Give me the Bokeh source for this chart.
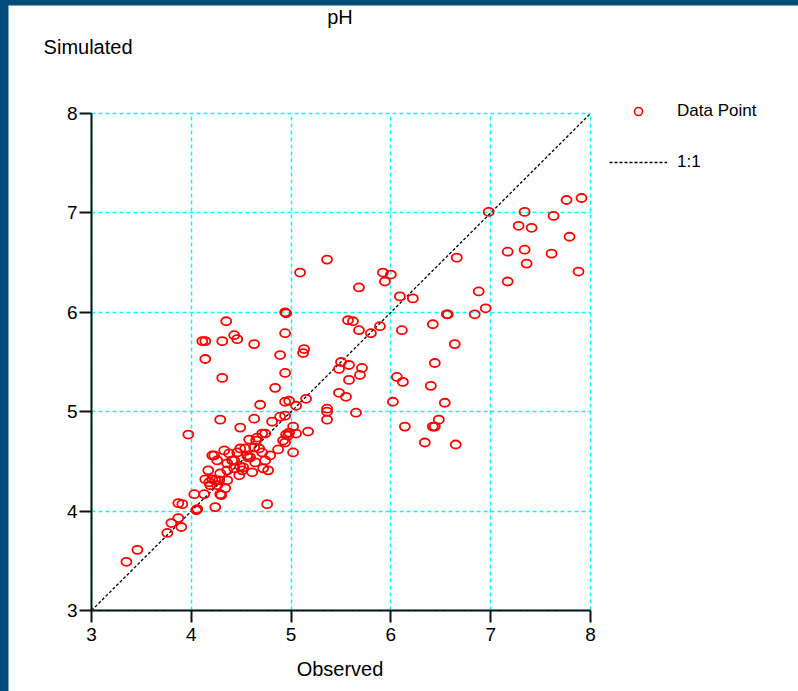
from bokeh.plotting import figure
from bokeh.models import Legend, LegendItem, FixedTicker, Label, Grid
from bokeh.layouts import column
from bokeh.embed import file_html
from bokeh.resources import INLINE

# ---- data (Observed vs Simulated pH) ----
observed = [
    7.91, 7.76, 7.34, 6.98, 7.63, 7.28, 7.41, 7.79, 7.17, 7.34, 7.61, 7.36, 7.88, 7.17,
    6.66, 6.88, 6.95, 6.84, 6.57, 6.42, 6.64, 6.44, 6.40, 6.54, 6.48, 6.44, 6.42, 6.65, 6.34,
    5.36, 5.09, 5.92, 6.00, 5.94, 5.68, 6.09, 6.22, 4.94, 4.95, 5.57, 5.62, 5.68, 5.80, 5.89,
    6.11, 6.56, 4.94, 5.13, 5.12, 4.89, 4.94, 5.50, 5.58, 5.71, 5.69, 5.48, 5.58, 5.48, 5.55,
    5.65, 5.36, 5.36, 5.36, 6.06, 6.12, 6.02, 6.14, 4.94, 4.98, 5.05, 5.15, 4.89, 4.94, 5.02,
    4.95, 4.98, 5.05, 4.94, 5.17, 5.02,
    4.35, 4.43, 4.46, 4.11, 4.14, 4.31, 4.63, 4.14, 4.31, 4.84, 4.69, 3.97, 4.29,
    4.63, 4.81, 4.49, 4.58, 4.65, 4.71, 4.74, 4.33, 4.21, 4.23, 4.26, 4.36, 4.46, 4.49, 4.54,
    4.63, 4.68, 4.71, 4.74, 4.59, 4.64, 4.49, 4.51, 4.72, 4.61, 4.43, 4.36, 4.29, 4.36, 4.17,
    4.14, 4.18, 4.21, 4.24, 4.19, 4.28, 4.48, 4.52, 4.43, 4.38, 4.56, 4.66, 4.79, 4.77, 4.87,
    4.92, 4.97, 4.57, 4.41, 4.26, 4.34, 4.76,
    3.35, 3.46, 3.76, 3.80, 3.90, 3.87, 3.87, 3.91, 4.03, 4.05, 4.06, 4.13, 4.24, 4.29, 4.30,
]
simulated = [
    7.15, 7.13, 7.01, 7.01, 6.97, 6.87, 6.85, 6.76, 6.61, 6.63, 6.59, 6.49, 6.41, 6.31,
    6.55, 6.21, 6.04, 5.98, 5.98, 5.88, 5.68, 5.49, 5.26, 5.09, 4.92, 4.85, 4.85, 4.67, 4.69,
    6.53, 6.40, 6.40, 6.38, 6.31, 6.25, 6.16, 6.14, 6.00, 5.99, 5.92, 5.91, 5.82, 5.79, 5.86,
    5.82, 5.98, 5.79, 5.63, 5.59, 5.57, 5.39, 5.50, 5.47, 5.44, 5.37, 5.43, 5.32, 5.19, 5.15,
    4.99, 5.03, 5.00, 4.92, 5.35, 5.30, 5.10, 4.85, 5.10, 5.11, 5.06, 5.13, 4.95, 4.96, 4.85,
    4.77, 4.79, 4.78, 4.69, 4.80, 4.59,
    5.91, 5.77, 5.73, 5.71, 5.71, 5.71, 5.68, 5.53, 5.34, 5.24, 5.07, 4.77, 4.92,
    4.93, 4.90, 4.84, 4.72, 4.71, 4.78, 4.78, 4.61, 4.56, 4.56, 4.51, 4.48, 4.59, 4.63, 4.63,
    4.64, 4.63, 4.59, 4.51, 4.54, 4.49, 4.45, 4.41, 4.43, 4.39, 4.43, 4.41, 4.38, 4.31, 4.41,
    4.32, 4.29, 4.32, 4.31, 4.26, 4.31, 4.36, 4.44, 4.51, 4.58, 4.56, 4.74, 4.56, 4.41, 4.62,
    4.71, 4.76, 4.54, 4.51, 4.26, 4.23, 4.07,
    3.49, 3.61, 3.78, 3.88, 3.84, 3.93, 4.08, 4.07, 4.17, 4.01, 4.02, 4.17, 4.04, 4.17, 4.16,
]
line_x = [3, 8]
line_y = [3, 8]
ticks = [3, 4, 5, 6, 7, 8]
title_text = "pH"
x_label = "Observed"
y_label = "Simulated"
legend_labels = ["Data Point", "1:1"]

FONT = "Liberation Sans"
W, H = 790, 686
LEFT, BOTTOM = 83, 81          # where the axes sit, in pixels
PX_X, PX_Y = 99.8, 99.4        # pixels per pH unit
AX0 = ticks[0]
x_range = (AX0 - LEFT / PX_X, AX0 + (W - LEFT) / PX_X)
y_range = (AX0 - BOTTOM / PX_Y, AX0 + (H - BOTTOM) / PX_Y)

p = figure(width=W, height=H, x_range=x_range, y_range=y_range, min_border=0,
           output_backend="svg", toolbar_location=None, background_fill_color="white",
           border_fill_color="white")
p.outline_line_color = None
p.title.visible = False

bounds = (ticks[0], ticks[-1])
for ax in (p.xaxis[0], p.yaxis[0]):
    ax.fixed_location = AX0
    ax.bounds = bounds
    ax.ticker = FixedTicker(ticks=ticks)
    ax.axis_line_width = 2
    ax.axis_line_color = "#111111"
    ax.major_tick_line_width = 2
    ax.major_tick_line_color = "#111111"
    ax.major_tick_in = 0
    ax.major_tick_out = 12
    ax.minor_tick_line_color = None
    ax.major_label_text_font = FONT
    ax.major_label_text_font_size = "19px"
    ax.major_label_text_color = "black"
p.yaxis.major_label_standoff = 2
p.xaxis.major_label_standoff = 5

has_cross = "cross_bounds" in Grid.properties()
for g in (p.xgrid[0], p.ygrid[0]):
    g.ticker = FixedTicker(ticks=ticks)
    g.bounds = bounds
    g.grid_line_color = "#00FFFF"
    g.grid_line_dash = "4 3"
    g.grid_line_width = 1.5
    if has_cross:
        g.cross_bounds = bounds
    else:
        g.visible = False
if not has_cross:
    lo, hi = bounds
    p.segment(x0=ticks[1:], y0=[lo] * (len(ticks) - 1), x1=ticks[1:], y1=[hi] * (len(ticks) - 1),
              line_color="#00FFFF", line_dash="4 3", line_width=1.5)
    p.segment(x0=[lo] * (len(ticks) - 1), y0=ticks[1:], x1=[hi] * (len(ticks) - 1), y1=ticks[1:],
              line_color="#00FFFF", line_dash="4 3", line_width=1.5)

ln = p.line(line_x, line_y, line_color="black", line_dash="3 2", line_width=1.3)
p.ellipse(x=observed, y=simulated, width=10, height=8, width_units="screen", height_units="screen",
          fill_color=None, line_color="#FF0000", line_width=1.8)
dummy = p.scatter(x=[100], y=[100], marker="circle", size=9, fill_color=None,
                  line_color="#FF0000", line_width=1.6)

legend = Legend(items=[LegendItem(label=legend_labels[0], renderers=[dummy]),
                       LegendItem(label=legend_labels[1], renderers=[ln])],
                location=(601, 519), glyph_width=58, glyph_height=20, label_standoff=10,
                spacing=31, padding=0, margin=0, border_line_color=None,
                background_fill_alpha=0, label_text_font=FONT, label_text_font_size="17px",
                label_text_color="black", label_height=20)
p.add_layout(legend)

p.add_layout(Label(x=5.49, y=8.966, text=title_text, text_align="center", text_baseline="middle",
                   text_font=FONT, text_font_size="20px", text_color="black"))
p.add_layout(Label(x=2.52, y=8.664, text=y_label, text_align="left", text_baseline="middle",
                   text_font=FONT, text_font_size="20px", text_color="black"))
p.add_layout(Label(x=5.49, y=2.416, text=x_label, text_align="center", text_baseline="middle",
                   text_font=FONT, text_font_size="20px", text_color="black"))

p.margin = (5, 0, 0, 8)
layout = column(p, width=798, height=691, styles={"background-color": "#004C7A"})

open("out.html", "w").write(file_html(layout, INLINE))
